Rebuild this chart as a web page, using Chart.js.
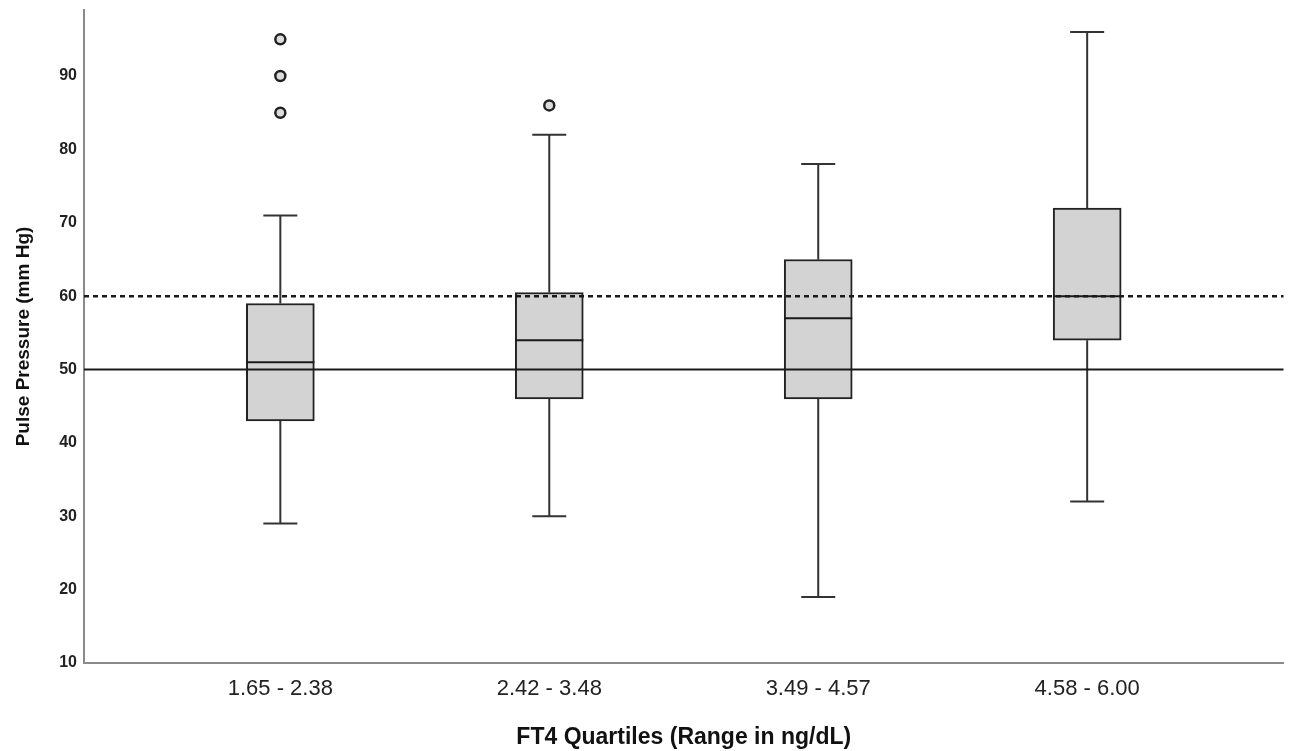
<!DOCTYPE html>
<html>
<head>
<meta charset="utf-8">
<script src="https://cdn.jsdelivr.net/npm/chart.js@4.4.1/dist/chart.umd.min.js"></script>
<style>
  body { margin: 0; background: #fff; }
  #wrap { width: 1291px; height: 751px; }
</style>
</head>
<body>
<div id="wrap"><canvas id="myChart"></canvas></div>
<script>
"use strict";

// quartile groups (FT4 ranges)
var categories = ["1.65 - 2.38", "2.42 - 3.48", "3.49 - 4.57", "4.58 - 6.00"];
var whiskerLow = [29, 30, 19, 32];
var q1 = [43, 46, 46, 54];
var median = [51, 54, 57, 60];
var q3 = [59, 60.5, 65, 72];
var whiskerHigh = [71, 82, 78, 96];
var outliers = [[85, 90, 95], [86], [], []];
var yTicks = [10, 20, 30, 40, 50, 60, 70, 80, 90];
var refSolid = 50;
var refDotted = 60;

var FONT = "'Liberation Sans', Arial, sans-serif";

var boxData = categories.map(function (c, i) {
    return { x: i + 1, y: [q1[i], q3[i]] };
});

var outlierData = [];
outliers.forEach(function (list, i) {
    list.forEach(function (v) { outlierData.push({ x: i + 1, y: v }); });
});

// whiskers, medians and the two reference lines
var boxParts = {
    id: 'boxParts',
    beforeDatasetsDraw: function (chart) {
        var ctx = chart.ctx, xs = chart.scales.x, ys = chart.scales.y;
        ctx.save();
        ctx.strokeStyle = '#333';
        ctx.lineWidth = 2;
        categories.forEach(function (c, i) {
            var x = xs.getPixelForValue(i + 1);
            ctx.beginPath();
            ctx.moveTo(x, ys.getPixelForValue(whiskerLow[i]));
            ctx.lineTo(x, ys.getPixelForValue(q1[i]));
            ctx.moveTo(x, ys.getPixelForValue(q3[i]));
            ctx.lineTo(x, ys.getPixelForValue(whiskerHigh[i]));
            ctx.moveTo(x - 17, ys.getPixelForValue(whiskerLow[i]));
            ctx.lineTo(x + 17, ys.getPixelForValue(whiskerLow[i]));
            ctx.moveTo(x - 17, ys.getPixelForValue(whiskerHigh[i]));
            ctx.lineTo(x + 17, ys.getPixelForValue(whiskerHigh[i]));
            ctx.stroke();
        });
        ctx.restore();
    },
    afterDatasetsDraw: function (chart) {
        var ctx = chart.ctx, xs = chart.scales.x, ys = chart.scales.y;
        var area = chart.chartArea;
        ctx.save();
        ctx.strokeStyle = '#1a1a1a';
        ctx.lineWidth = 2;
        categories.forEach(function (c, i) {
            var x = xs.getPixelForValue(i + 1);
            var y = ys.getPixelForValue(median[i]);
            ctx.beginPath();
            ctx.moveTo(x - 34, y);
            ctx.lineTo(x + 34, y);
            ctx.stroke();
        });
        var y50 = ys.getPixelForValue(refSolid);
        ctx.beginPath();
        ctx.moveTo(area.left, y50);
        ctx.lineTo(area.right, y50);
        ctx.stroke();
        var y60 = ys.getPixelForValue(refDotted);
        ctx.setLineDash([5, 4]);
        ctx.lineWidth = 2.5;
        ctx.beginPath();
        ctx.moveTo(area.left, y60);
        ctx.lineTo(area.right, y60);
        ctx.stroke();
        ctx.restore();
    }
};

var ctx = document.getElementById('myChart');

var myChart = new Chart(ctx, {
    type: 'bar',
    data: {
        datasets: [
            {
                type: 'bar',
                data: boxData,
                backgroundColor: '#d3d3d3',
                borderColor: '#222',
                borderWidth: 2,
                borderSkipped: false,
                barThickness: 68
            },
            {
                type: 'scatter',
                data: outlierData,
                pointStyle: 'circle',
                pointRadius: 5,
                pointBorderWidth: 2.5,
                pointBackgroundColor: '#dcdcdc',
                pointBorderColor: '#222'
            }
        ]
    },
    options: {
        responsive: true,
        maintainAspectRatio: false,
        animation: false,
        layout: { padding: { left: 0, right: 7, top: 10, bottom: 0 } },
        plugins: {
            legend: { display: false },
            tooltip: { enabled: false }
        },
        scales: {
            x: {
                type: 'linear',
                offset: false,
                min: 0.27,
                max: 4.73,
                afterBuildTicks: function (axis) {
                    axis.ticks = categories.map(function (c, i) { return { value: i + 1 }; });
                },
                afterFit: function (axis) { axis.height = 751 - 663; },
                grid: { display: false, drawTicks: false },
                border: { display: true, color: '#8a8a8a', width: 2 },
                ticks: {
                    autoSkip: false,
                    maxRotation: 0,
                    padding: 13,
                    color: '#222',
                    font: { family: FONT, size: 22 },
                    callback: function (v) { return categories[v - 1]; }
                },
                title: {
                    display: true,
                    text: 'FT4 Quartiles (Range in ng/dL)',
                    color: '#111',
                    font: { family: FONT, size: 23, weight: 'bold' },
                    padding: { top: 0, bottom: 0 }
                }
            },
            y: {
                min: 10,
                max: 99,
                afterBuildTicks: function (axis) {
                    axis.ticks = yTicks.map(function (v) { return { value: v }; });
                },
                afterFit: function (axis) {
                    axis.width = 84;
                    axis.paddingTop = 0;
                    axis.paddingBottom = 0;
                },
                grid: { display: false, drawTicks: false },
                border: { display: true, color: '#8a8a8a', width: 2 },
                ticks: {
                    padding: 7,
                    color: '#222',
                    font: { family: FONT, size: 16, weight: 'bold' }
                },
                title: {
                    display: true,
                    text: 'Pulse Pressure (mm Hg)',
                    color: '#111',
                    font: { family: FONT, size: 19, weight: 'bold' },
                    padding: { top: 12, bottom: 0 }
                }
            }
        }
    },
    plugins: [boxParts]
});
</script>
</body>
</html>
